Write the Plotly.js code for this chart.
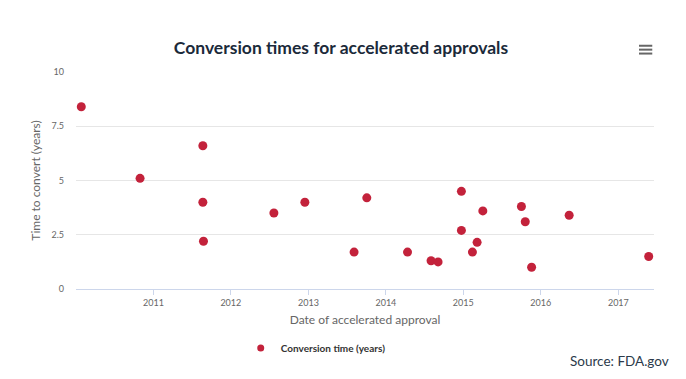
<!DOCTYPE html>
<html>
<head>
<meta charset="utf-8">
<script src="https://cdn.plot.ly/plotly-3.0.1.min.js"></script>
<style>
html,body{margin:0;padding:0;background:#fff;}
#chart{width:686px;height:379px;}
</style>
</head>
<body>
<div id="chart"></div>
<script>
// Data
var approvalDates = [
  '2010-01-26', '2010-10-30', '2011-08-22', '2011-08-22', '2011-08-25',
  '2012-07-22', '2012-12-15', '2013-08-04', '2013-10-03', '2014-04-13',
  '2014-08-02', '2014-09-04', '2014-12-23', '2014-12-23', '2015-02-13',
  '2015-03-07', '2015-04-03', '2015-10-02', '2015-10-20', '2015-11-19',
  '2016-05-14', '2017-05-24'
];
var conversionYears = [
  8.4, 5.1, 6.6, 4.0, 2.2,
  3.5, 4.0, 1.7, 4.2, 1.7,
  1.3, 1.25, 4.5, 2.7, 1.7,
  2.15, 3.6, 3.8, 3.1, 1.0,
  3.4, 1.5
];
var xTickVals = ['2011-01-01', '2012-01-01', '2013-01-01', '2014-01-01', '2015-01-01', '2016-01-01', '2017-01-01'];
var xTickText = ['2011', '2012', '2013', '2014', '2015', '2016', '2017'];
var yTickVals = [0, 2.5, 5, 7.5, 10];
var yTickText = ['0', '2.5', '5', '7.5', '10'];
var seriesName = 'Conversion time (years)';

var font = 'Lato, "Open Sans", "Noto Sans", sans-serif';
var red = '#c3223b';

var trace = {
  x: approvalDates,
  y: conversionYears,
  type: 'scatter',
  mode: 'markers',
  name: seriesName,
  marker: {color: red, size: 9},
  showlegend: false
};
// legend entry only (smaller legend symbol, as in the reference)
var legendTrace = {
  x: [null],
  y: [null],
  type: 'scatter',
  mode: 'markers',
  name: seriesName,
  marker: {color: red, size: 7},
  showlegend: true
};

var layout = {
  width: 686,
  height: 379,
  margin: {l: 76, r: 32, t: 72, b: 90},
  paper_bgcolor: '#ffffff',
  plot_bgcolor: '#ffffff',
  font: {family: font, color: '#666666', size: 10},
  title: {
    text: '<b>Conversion times for accelerated approvals</b>',
    font: {family: font, size: 17.5, color: '#1b2a3a'},
    x: 0.497, xanchor: 'center',
    y: 0.875, yanchor: 'middle'
  },
  xaxis: {
    type: 'date',
    range: ['2010-01-01', '2017-06-18'],
    tickvals: xTickVals,
    ticktext: xTickText,
    showgrid: false,
    zeroline: false,
    showline: true,
    linecolor: '#ccd6eb',
    linewidth: 1,
    ticks: 'outside',
    ticklen: 5,
    tickcolor: '#ccd6eb',
    tickfont: {family: font, size: 9, color: '#666666'},
    title: {text: 'Date of accelerated approval', font: {family: font, size: 12, color: '#666666'}, standoff: 8},
    fixedrange: true
  },
  yaxis: {
    range: [0, 10],
    tickvals: yTickVals,
    ticktext: yTickText,
    showgrid: true,
    gridcolor: '#e6e6e6',
    gridwidth: 1,
    zeroline: false,
    showline: false,
    ticks: '',
    ticklabelstandoff: 11,
    tickfont: {family: font, size: 9, color: '#666666'},
    title: {text: 'Time to convert (years)', font: {family: font, size: 12, color: '#666666'}, standoff: 8},
    fixedrange: true
  },
  legend: {
    orientation: 'h',
    x: 0.285, xanchor: 'left',
    y: -0.272, yanchor: 'middle',
    font: {family: font, size: 10, color: '#333333', weight: 'bold'},
    itemwidth: 30
  },
  annotations: [{
    text: 'Source: FDA.gov',
    xref: 'paper', yref: 'paper',
    x: 1.03, xanchor: 'right',
    y: -0.33, yanchor: 'middle',
    showarrow: false,
    font: {family: font, size: 13.5, color: '#2b3a4a'}
  }],
  shapes: [
    {type: 'line', xref: 'paper', yref: 'paper', x0: 0.974, x1: 0.997, y0: 1.121, y1: 1.121, line: {color: '#666666', width: 2}},
    {type: 'line', xref: 'paper', yref: 'paper', x0: 0.974, x1: 0.997, y0: 1.103, y1: 1.103, line: {color: '#666666', width: 2}},
    {type: 'line', xref: 'paper', yref: 'paper', x0: 0.974, x1: 0.997, y0: 1.085, y1: 1.085, line: {color: '#666666', width: 2}}
  ]
};

Plotly.newPlot('chart', [trace, legendTrace], layout, {displayModeBar: false, staticPlot: true});
</script>
</body>
</html>
